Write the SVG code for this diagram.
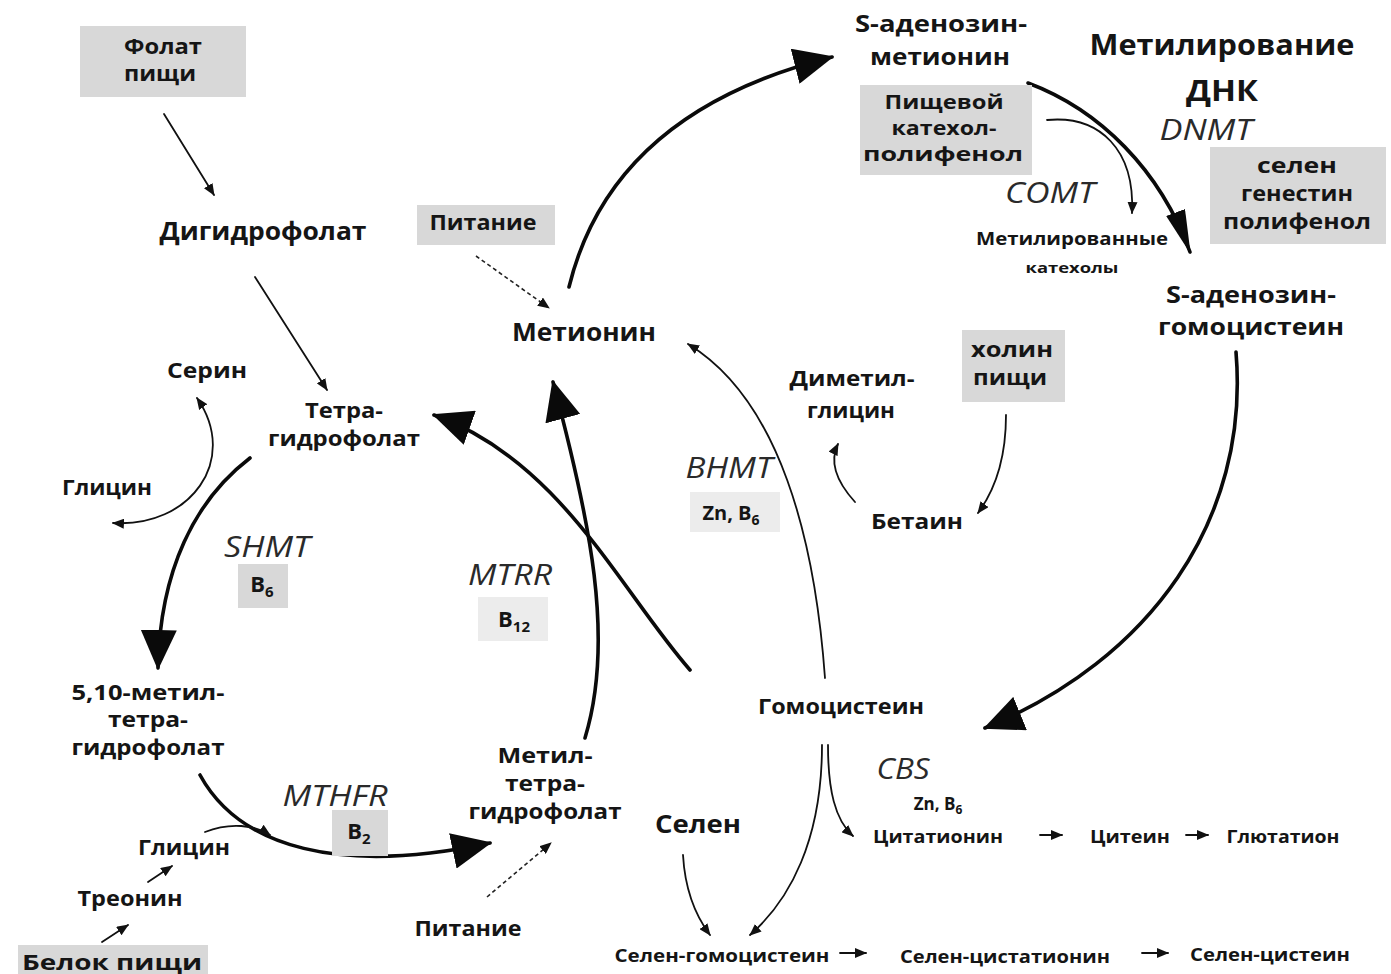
<svg xmlns="http://www.w3.org/2000/svg" width="1391" height="974" viewBox="0 0 1391 974">
<style>
.t{font-family:"Open Sans","DejaVu Sans",sans-serif;font-weight:700;fill:#151515;text-anchor:middle}
.e{font-family:"Open Sans","DejaVu Sans",sans-serif;font-style:italic;font-weight:400;fill:#2a2a2a;text-anchor:middle;font-size:29px}
.box{fill:#d8d8d8}
.lbox{fill:#ececec}
.thick{fill:none;stroke:#0a0a0a;stroke-width:3.6;stroke-linecap:round}
.thin{fill:none;stroke:#111;stroke-width:1.8;stroke-linecap:round}
.dash{fill:none;stroke:#222;stroke-width:1.6;stroke-dasharray:4 3}
</style>
<defs>
<marker id="big" viewBox="0 0 40 36" refX="38" refY="18" markerWidth="40" markerHeight="36" markerUnits="userSpaceOnUse" orient="auto"><path d="M0,0 L40,18 L0,36 z" fill="#0a0a0a"/></marker>
<marker id="narrow" viewBox="0 0 44 20" refX="42" refY="10" markerWidth="44" markerHeight="20" markerUnits="userSpaceOnUse" orient="auto"><path d="M0,0 L44,10 L0,20 z" fill="#0a0a0a"/></marker>
<marker id="sm" viewBox="0 0 12 10" refX="11" refY="5" markerWidth="12" markerHeight="10" markerUnits="userSpaceOnUse" orient="auto-start-reverse"><path d="M0,0 L12,5 L0,10 z" fill="#111"/></marker>
</defs>
<rect width="1391" height="974" fill="#ffffff"/>

<g id="connectors">
<path class="thin" d="M164,114 L214,195" marker-end="url(#sm)"/>
<path class="thin" d="M255,277 L327,390" marker-end="url(#sm)"/>
<path class="thin" d="M113,523 C190,528 240,460 197,398" marker-start="url(#sm)" marker-end="url(#sm)"/>
<path class="thick" d="M250,458 C195,500 160,570 158,668" marker-end="url(#big)"/>
<path class="thick" d="M200,775 C240,848 340,875 490,843" marker-end="url(#big)"/>
<path class="thin" d="M205,832 C230,822 255,825 270,835" marker-end="url(#sm)"/>
<path class="thin" d="M148,882 L172,866" marker-end="url(#sm)"/>
<path class="thin" d="M102,942 L128,925" marker-end="url(#sm)"/>
<path class="dash" d="M487,897 L551,843" marker-end="url(#sm)"/>
<path class="dash" d="M476,256 L549,308" marker-end="url(#sm)"/>
<path class="thick" d="M569,287 C600,160 700,90 832,57" marker-end="url(#big)"/>
<path class="thick" d="M690,670 C620,590 560,460 434,415" marker-end="url(#big)"/>
<path class="thick" d="M585,738 C615,640 590,520 553,382" marker-end="url(#big)"/>
<path class="thick" d="M1028,83 C1100,110 1160,170 1190,252" marker-end="url(#narrow)"/>
<path class="thin" d="M1047,120 C1100,115 1135,150 1132,213" marker-end="url(#sm)"/>
<path class="thick" d="M1236,352 C1250,520 1150,660 985,728" marker-end="url(#big)"/>
<path class="thin" d="M825,678 C815,540 780,400 688,344" marker-end="url(#sm)"/>
<path class="thin" d="M855,502 C835,480 830,460 838,444" marker-end="url(#sm)"/>
<path class="thin" d="M1006,415 C1006,460 995,490 978,513" marker-end="url(#sm)"/>
<path class="thin" d="M828,745 C828,790 835,820 853,836" marker-end="url(#sm)"/>
<path class="thin" d="M822,745 C822,840 790,900 750,935" marker-end="url(#sm)"/>
<path class="thin" d="M683,855 C685,890 695,915 710,935" marker-end="url(#sm)"/>
<path class="thin" d="M1040,835 L1062,835" marker-end="url(#sm)"/>
<path class="thin" d="M1186,835 L1208,835" marker-end="url(#sm)"/>
<path class="thin" d="M840,953 L866,953" marker-end="url(#sm)"/>
<path class="thin" d="M1142,953 L1168,953" marker-end="url(#sm)"/>
</g>

<g id="folat"><rect class="box" x="80" y="26" width="166" height="71"/>
<text class="t" x="163" y="54" font-size="21" textLength="78" lengthAdjust="spacingAndGlyphs">Фолат</text>
<text class="t" x="160" y="81" font-size="21" textLength="72" lengthAdjust="spacingAndGlyphs">пищи</text></g>
<g id="dhf"><text class="t" x="263" y="240" font-size="25" textLength="207" lengthAdjust="spacingAndGlyphs">Дигидрофолат</text></g>
<g id="pit1"><rect class="box" x="417" y="205" width="138" height="40"/>
<text class="t" x="483" y="230" font-size="22" textLength="107" lengthAdjust="spacingAndGlyphs">Питание</text></g>
<g id="met"><text class="t" x="584" y="341" font-size="25" textLength="144" lengthAdjust="spacingAndGlyphs">Метионин</text></g>
<g id="sam"><text class="t" x="941" y="32" font-size="24" textLength="172" lengthAdjust="spacingAndGlyphs">S-аденозин-</text>
<text class="t" x="940" y="65" font-size="24" textLength="140" lengthAdjust="spacingAndGlyphs">метионин</text></g>
<g id="dnk"><text class="t" x="1222" y="55" font-size="29" textLength="265" lengthAdjust="spacingAndGlyphs">Метилирование</text>
<text class="t" x="1222" y="101" font-size="29" textLength="72" lengthAdjust="spacingAndGlyphs">ДНК</text></g>
<g id="cat"><rect class="box" x="860" y="85" width="172" height="90"/>
<text class="t" x="944" y="109" font-size="19" textLength="119" lengthAdjust="spacingAndGlyphs">Пищевой</text>
<text class="t" x="944" y="135" font-size="19" textLength="105" lengthAdjust="spacingAndGlyphs">катехол-</text>
<text class="t" x="943" y="161" font-size="19" textLength="160" lengthAdjust="spacingAndGlyphs">полифенол</text></g>
<g id="dnmt"><text class="e" x="1206" y="140" textLength="93" lengthAdjust="spacingAndGlyphs">DNMT</text></g>
<g id="selgen"><rect class="box" x="1210" y="147" width="176" height="97"/>
<text class="t" x="1297" y="173" font-size="22" textLength="80" lengthAdjust="spacingAndGlyphs">селен</text>
<text class="t" x="1297" y="201" font-size="22" textLength="112" lengthAdjust="spacingAndGlyphs">генестин</text>
<text class="t" x="1297" y="229" font-size="22" textLength="148" lengthAdjust="spacingAndGlyphs">полифенол</text></g>
<g id="comt"><text class="e" x="1050" y="203" textLength="90" lengthAdjust="spacingAndGlyphs">COMT</text></g>
<g id="metcat"><text class="t" x="1072" y="245" font-size="17" textLength="192" lengthAdjust="spacingAndGlyphs">Метилированные</text>
<text class="t" x="1072" y="273" font-size="15" textLength="93" lengthAdjust="spacingAndGlyphs">катехолы</text></g>
<g id="sah"><text class="t" x="1251" y="303" font-size="24" textLength="170" lengthAdjust="spacingAndGlyphs">S-аденозин-</text>
<text class="t" x="1251" y="335" font-size="24" textLength="186" lengthAdjust="spacingAndGlyphs">гомоцистеин</text></g>
<g id="serin"><text class="t" x="207" y="378" font-size="22" textLength="80" lengthAdjust="spacingAndGlyphs">Серин</text></g>
<g id="thf"><text class="t" x="344" y="418" font-size="21" textLength="78" lengthAdjust="spacingAndGlyphs">Тетра-</text>
<text class="t" x="344" y="446" font-size="21" textLength="152" lengthAdjust="spacingAndGlyphs">гидрофолат</text></g>
<g id="glycin1"><text class="t" x="107" y="495" font-size="21" textLength="90" lengthAdjust="spacingAndGlyphs">Глицин</text></g>
<g id="dmg"><text class="t" x="852" y="386" font-size="22" textLength="125" lengthAdjust="spacingAndGlyphs">Диметил-</text>
<text class="t" x="851" y="418" font-size="22" textLength="88" lengthAdjust="spacingAndGlyphs">глицин</text></g>
<g id="cholin"><rect class="box" x="962" y="330" width="103" height="72"/>
<text class="t" x="1012" y="357" font-size="22" textLength="82" lengthAdjust="spacingAndGlyphs">холин</text>
<text class="t" x="1010" y="385" font-size="22" textLength="74" lengthAdjust="spacingAndGlyphs">пищи</text></g>
<g id="bhmt"><text class="e" x="729" y="478" textLength="87" lengthAdjust="spacingAndGlyphs">BHMT</text>
<rect class="lbox" x="690" y="492" width="90" height="40"/>
<text class="t" x="731" y="520" font-size="20">Zn, B<tspan font-size="14" dy="5">6</tspan></text></g>
<g id="betain"><text class="t" x="917" y="529" font-size="21" textLength="92" lengthAdjust="spacingAndGlyphs">Бетаин</text></g>
<g id="shmt"><text class="e" x="267" y="557" textLength="86" lengthAdjust="spacingAndGlyphs">SHMT</text>
<rect class="box" x="238" y="564" width="50" height="44"/>
<text class="t" x="262" y="592" font-size="22">B<tspan font-size="15" dy="5">6</tspan></text></g>
<g id="mtrr"><text class="e" x="510" y="585" textLength="84" lengthAdjust="spacingAndGlyphs">MTRR</text>
<rect class="lbox" x="478" y="597" width="70" height="44"/>
<text class="t" x="514" y="627" font-size="22">B<tspan font-size="15" dy="5">12</tspan></text></g>
<g id="mthf510"><text class="t" x="148" y="700" font-size="21" textLength="153" lengthAdjust="spacingAndGlyphs">5,10-метил-</text>
<text class="t" x="148" y="727" font-size="21" textLength="80" lengthAdjust="spacingAndGlyphs">тетра-</text>
<text class="t" x="148" y="755" font-size="21" textLength="153" lengthAdjust="spacingAndGlyphs">гидрофолат</text></g>
<g id="hcy"><text class="t" x="841" y="714" font-size="21" textLength="166" lengthAdjust="spacingAndGlyphs">Гомоцистеин</text></g>
<g id="mthf"><text class="t" x="545" y="763" font-size="21" textLength="95" lengthAdjust="spacingAndGlyphs">Метил-</text>
<text class="t" x="545" y="791" font-size="21" textLength="80" lengthAdjust="spacingAndGlyphs">тетра-</text>
<text class="t" x="545" y="819" font-size="21" textLength="153" lengthAdjust="spacingAndGlyphs">гидрофолат</text></g>
<g id="mthfr"><text class="e" x="335" y="806" textLength="105" lengthAdjust="spacingAndGlyphs">MTHFR</text>
<rect class="box" x="332" y="810" width="56" height="46"/>
<text class="t" x="359" y="839" font-size="22">B<tspan font-size="15" dy="5">2</tspan></text></g>
<g id="cbs"><text class="e" x="903" y="779" textLength="53" lengthAdjust="spacingAndGlyphs">CBS</text>
<text class="t" x="938" y="810" font-size="17">Zn, B<tspan font-size="12" dy="4">6</tspan></text></g>
<g id="selen"><text class="t" x="698" y="833" font-size="25" textLength="86" lengthAdjust="spacingAndGlyphs">Селен</text></g>
<g id="cyst"><text class="t" x="938" y="843" font-size="17" textLength="130" lengthAdjust="spacingAndGlyphs">Цитатионин</text></g>
<g id="cys"><text class="t" x="1130" y="843" font-size="17" textLength="80" lengthAdjust="spacingAndGlyphs">Цитеин</text></g>
<g id="gsh"><text class="t" x="1283" y="843" font-size="17" textLength="113" lengthAdjust="spacingAndGlyphs">Глютатион</text></g>
<g id="glycin2"><text class="t" x="184" y="855" font-size="21" textLength="92" lengthAdjust="spacingAndGlyphs">Глицин</text></g>
<g id="threo"><text class="t" x="130" y="906" font-size="21" textLength="105" lengthAdjust="spacingAndGlyphs">Треонин</text></g>
<g id="pit2"><text class="t" x="468" y="936" font-size="22" textLength="107" lengthAdjust="spacingAndGlyphs">Питание</text></g>
<g id="belok"><rect class="box" x="18" y="945" width="190" height="29"/>
<text class="t" x="112" y="970" font-size="22" textLength="180" lengthAdjust="spacingAndGlyphs">Белок пищи</text></g>
<g id="sehcy"><text class="t" x="722" y="962" font-size="17" textLength="215" lengthAdjust="spacingAndGlyphs">Селен-гомоцистеин</text></g>
<g id="secysth"><text class="t" x="1005" y="963" font-size="17" textLength="210" lengthAdjust="spacingAndGlyphs">Селен-цистатионин</text></g>
<g id="secys"><text class="t" x="1270" y="961" font-size="17" textLength="160" lengthAdjust="spacingAndGlyphs">Селен-цистеин</text></g>
</svg>
